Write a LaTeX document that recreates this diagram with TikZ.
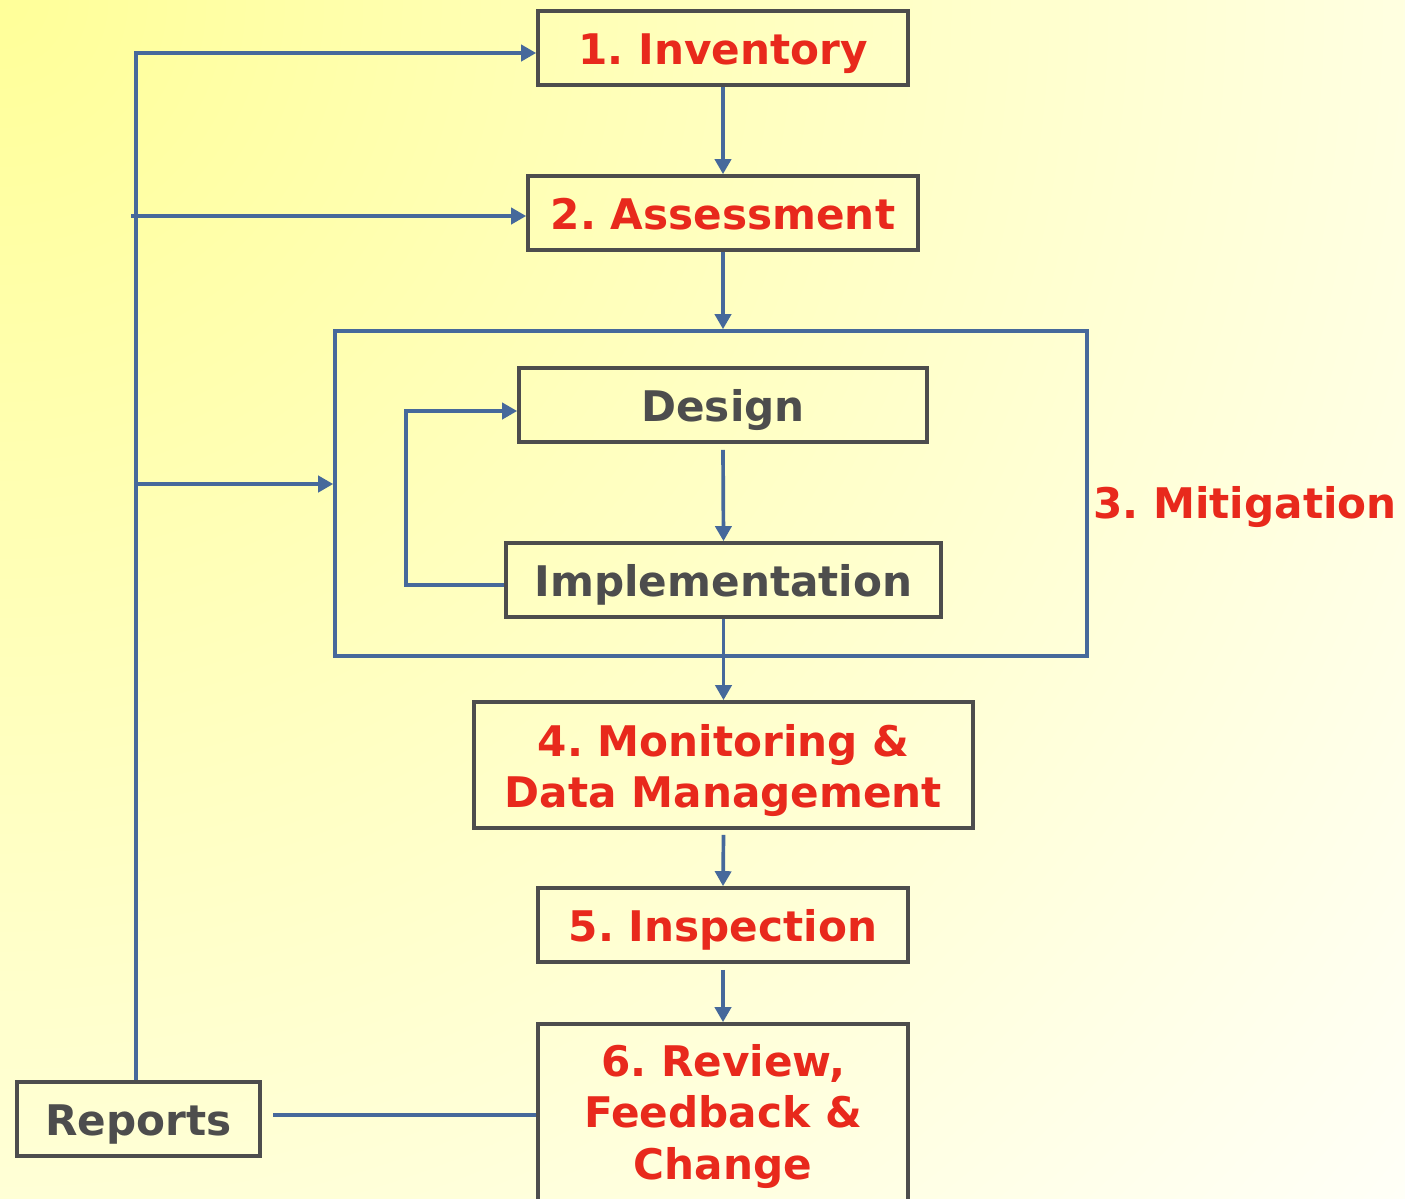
\documentclass[tikz,border=0pt]{standalone}
\usepackage{fontspec}
\setmainfont{DejaVu Sans}
\usetikzlibrary{arrows.meta,positioning,calc}
\definecolor{stepred}{HTML}{E8291C}
\definecolor{boxgray}{HTML}{4D4D4D}
\definecolor{linkblue}{HTML}{46699B}
\definecolor{bgyellow}{HTML}{FFFF99}
\frenchspacing

\begin{document}
\begin{tikzpicture}[x=0.02cm,y=-0.02cm,
    box/.style={draw=boxgray,line width=2.1pt,align=center,inner sep=0pt,
        font=\fontsize{24}{29.5}\selectfont\bfseries,minimum height=1.48cm,
        text height=21.3pt,text depth=2.6pt},
    stage/.style={box,text=stepred},
    sub/.style={box,text=boxgray},
    link/.style={draw=linkblue,line width=2.1pt},
    arr/.style={link,-{Triangle[length=0.3cm,width=0.32cm]}}]
    \useasboundingbox (0,0) rectangle (1405,1198);
    \clip (0,0) rectangle (1405,1198);
    \shade[inner color=bgyellow,outer color=white] (-2000,-2000) rectangle (2000,2000);

    \node[stage,minimum width=7.4cm] (inv) at (723,48) {1. Inventory};
    \node[stage,minimum width=7.8cm] (assess) at (723,213) {2. Assessment};
    \node[draw=linkblue,line width=2.1pt,minimum width=15.04cm,minimum height=6.5cm] (mitig) at (711,493.5) {};
    \node[sub,minimum width=8.16cm] (design) at (723,405) {Design};
    \node[sub,minimum width=8.7cm] (impl) at (723.5,580) {Implementation};
    \node[anchor=base west,text=stepred,font=\fontsize{24}{29.5}\selectfont\bfseries,inner sep=0pt] (mitlabel) at (1093,518) {3. Mitigation};
    \node[stage,minimum width=9.98cm,minimum height=2.52cm,text height=51.1pt,text depth=2.3pt] (monit) at (723.5,765) {4. Monitoring \&\\Data Management};
    \node[stage,minimum width=7.4cm] (insp) at (723,925) {5. Inspection};
    \node[stage,minimum width=7.4cm,minimum height=3.64cm,text height=78.3pt,text depth=4.6pt] (review) at (723,1115) {6. Review,\\Feedback \&\\Change};
    \node[sub,minimum width=4.86cm] (reports) at (138.5,1119) {Reports};

    \draw[arr] (inv) -- (assess);
    \draw[arr] (assess.south) -- (assess.south |- mitig.north);
    \draw[arr] ([yshift=-0.12cm]design.south) -- (impl.north);
    \draw[arr] (impl.south) -- (impl.south |- monit.north);
    \draw[arr] ([yshift=-0.1cm]monit.south) -- (insp.north);
    \draw[arr] ([yshift=-0.12cm]insp.south) -- (review.north);

    \coordinate (lp) at (406,585);
    \draw[arr] (lp -| impl.west) -- (lp) |- ([yshift=-0.12cm]design.west);

    \coordinate (trunk) at (136,53);
    \coordinate (a2) at (131,216);
    \coordinate (a3) at (136,484);
    \draw[arr] (reports.north -| trunk) -- (trunk) -- (trunk -| inv.west);
    \draw[arr] (a2) -- (a2 -| assess.west);
    \draw[arr] (a3) -- (a3 -| mitig.west);
    \draw[link] (review.west) -- ([xshift=0.22cm]reports.east |- review.west);
\end{tikzpicture}
\end{document}
